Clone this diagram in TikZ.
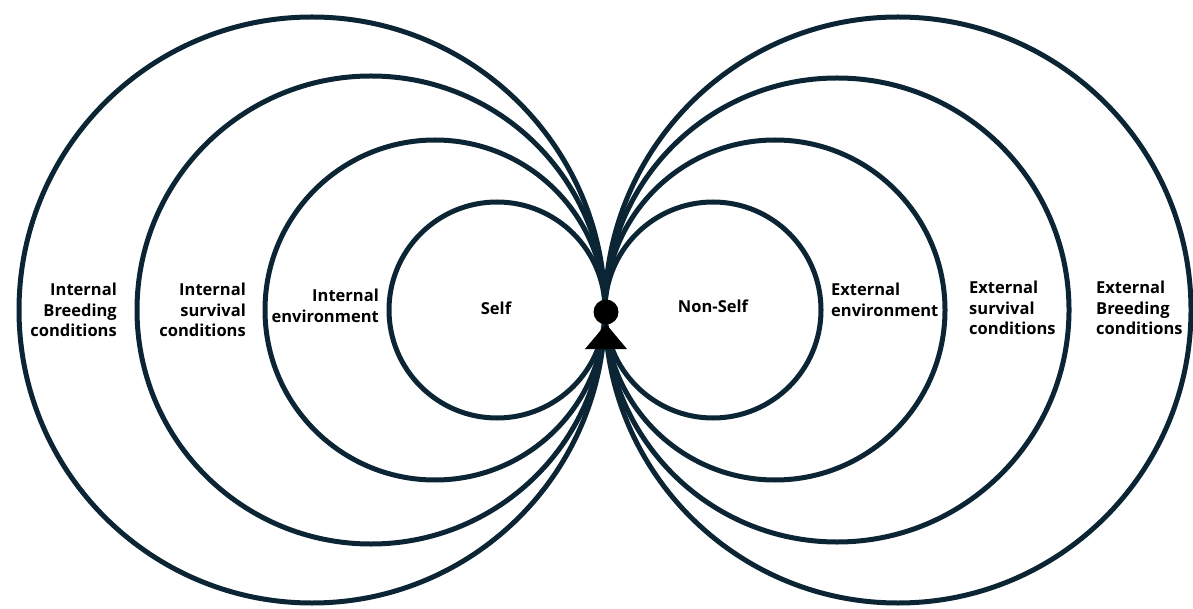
\documentclass[tikz,border=0pt]{standalone}
\usepackage{fontspec}
\setmainfont{Open Sans}
\usetikzlibrary{positioning}
\definecolor{ringblue}{HTML}{0B2535}

\begin{document}
\begin{tikzpicture}[
  x=1pt,y=-1pt,
  every node/.style={font=\fontsize{16.5}{20.8}\selectfont\bfseries},
  ring/.style={draw=ringblue,line width=5pt},
  inlabel/.style={align=right,anchor=east,inner sep=0pt},
  exlabel/.style={align=left,anchor=west,inner sep=0pt}
]
  \useasboundingbox (0,0) rectangle (1193,609);
  \coordinate (touch) at (605,310);

  % rings on both sides of the touching point
  \foreach \r in {108,170,234,293}
    \draw[ring] ([xshift=-\r pt]touch) circle[radius=\r pt];
  \foreach \r in {108,170,232,293}
    \draw[ring] ([xshift=\r pt]touch) circle[radius=\r pt];

  \node[circle,fill=black,inner sep=0pt,minimum size=25pt] (dot) at (606,312) {};
  \coordinate (tip) at (606,324);
  \fill (tip) -- ++(-21,25) -- ++(42,0) -- cycle;

  % inner labels
  \node[inlabel] (ibreed) at (117,310) {Internal\\Breeding\\conditions};
  \node[inlabel] (isurv) at (246,310) {Internal\\survival\\conditions};
  \node[inlabel] (ienv) at (379,306) {Internal\\environment};
  \node (self) at (496,308) {Self};

  % outer labels
  \node (nonself) at (713,306) {Non-Self};
  \node[exlabel] (eenv) at (831,300) {External\\environment};
  \node[exlabel] (esurv) at (969,308) {External\\survival\\conditions};
  \node[exlabel] (ebreed) at (1096,308) {External\\Breeding\\conditions};
\end{tikzpicture}
\end{document}
